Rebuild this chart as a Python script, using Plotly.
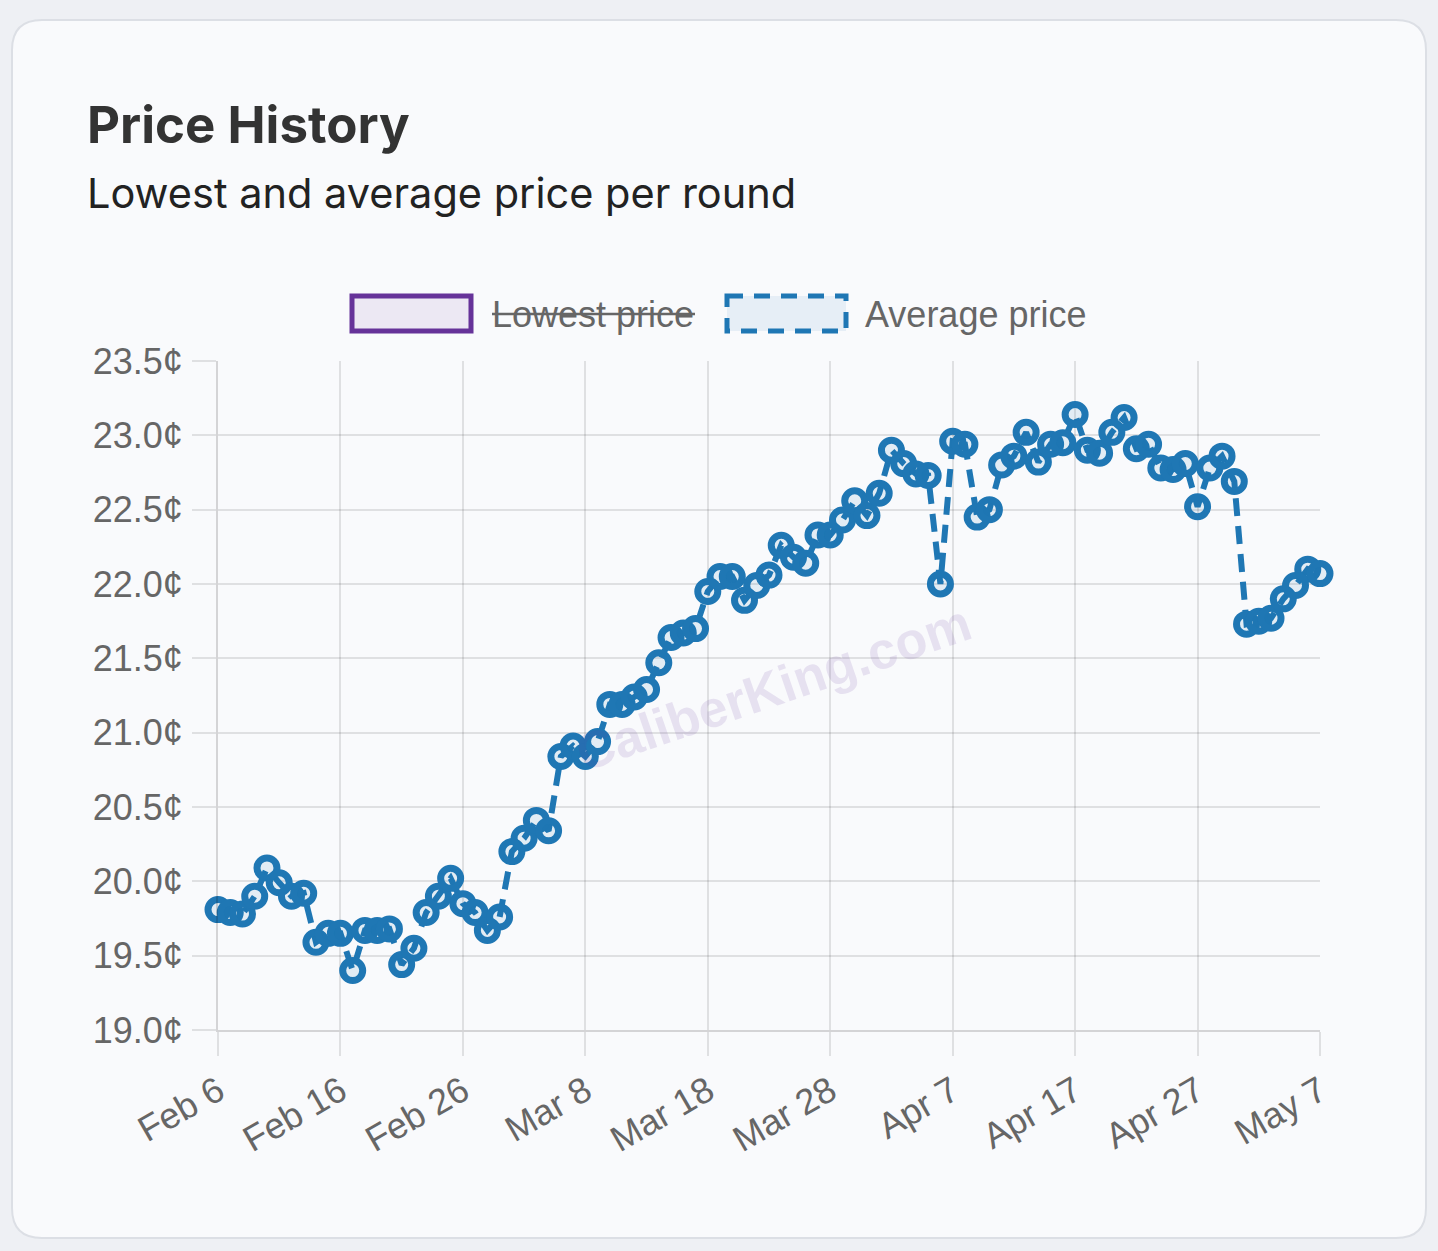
import plotly.graph_objects as go
import pandas as pd

# ---------------- data ----------------
start_date = "2025-02-06"
avg_price = [
    19.81, 19.79, 19.78, 19.90, 20.09, 19.99, 19.90, 19.92, 19.59, 19.65,
    19.65, 19.40, 19.67, 19.67, 19.68, 19.44, 19.55, 19.79, 19.90, 20.02,
    19.85, 19.79, 19.67, 19.76, 20.20, 20.29, 20.41, 20.34, 20.84, 20.91,
    20.84, 20.94, 21.19, 21.19, 21.24, 21.29, 21.47, 21.64, 21.67, 21.70,
    21.95, 22.05, 22.05, 21.89, 21.99, 22.06, 22.26, 22.18, 22.14, 22.33,
    22.33, 22.43, 22.56, 22.46, 22.61, 22.90, 22.81, 22.74, 22.73, 22.00,
    22.96, 22.94, 22.45, 22.50, 22.80, 22.86, 23.02, 22.82, 22.94, 22.95,
    23.14, 22.90, 22.88, 23.02, 23.12, 22.91, 22.94, 22.78, 22.77, 22.81,
    22.52, 22.78, 22.86, 22.69, 21.73, 21.75, 21.77, 21.90, 21.99, 22.10,
    22.07,
]
dates = pd.date_range(start_date, periods=len(avg_price), freq="D")

x_tick_vals = ["2025-02-06", "2025-02-16", "2025-02-26", "2025-03-08", "2025-03-18",
               "2025-03-28", "2025-04-07", "2025-04-17", "2025-04-27", "2025-05-07"]
x_tick_text = ["Feb 6", "Feb 16", "Feb 26", "Mar 8", "Mar 18",
               "Mar 28", "Apr 7", "Apr 17", "Apr 27", "May 7"]
y_tick_vals = [19.0, 19.5, 20.0, 20.5, 21.0, 21.5, 22.0, 22.5, 23.0, 23.5]
y_tick_text = [f"{v:.1f}¢" for v in y_tick_vals]

series_names = ["Lowest price", "Average price"]
title_text = "Price History"
subtitle_text = "Lowest and average price per round"
watermark_text = "CaliberKing.com"

# ---------------- layout geometry ----------------
W, H = 1438, 1251
L, R, T, B = 218, 1320, 361, 1030  # plot area in pixels


def px(xp):
    return (xp - L) / (R - L)


def py(yp):
    return (B - yp) / (B - T)


BLUE = "#1f77b4"
PURPLE = "#663399"
TICK_COLOR = "#666666"
GRID = "rgba(0,0,0,0.1)"

fig = go.Figure()
fig.add_trace(go.Scatter(
    x=dates, y=avg_price, mode="lines+markers", name=series_names[1],
    line=dict(color=BLUE, width=6, dash="18px,10px"),
    marker=dict(size=20, color="rgba(31,119,180,0.1)", line=dict(color=BLUE, width=7)),
    cliponaxis=False, showlegend=False,
))

shapes = []
# card background (rounded rectangle)
cx0, cy0, cx1, cy1, rad = 12, 20, 1426, 1238, 30


def rr_path(x0, y0, x1, y1, r):
    pts = []
    pts.append(f"M {px(x0 + r)} {py(y0)}")
    pts.append(f"L {px(x1 - r)} {py(y0)}")
    pts.append(f"Q {px(x1)} {py(y0)} {px(x1)} {py(y0 + r)}")
    pts.append(f"L {px(x1)} {py(y1 - r)}")
    pts.append(f"Q {px(x1)} {py(y1)} {px(x1 - r)} {py(y1)}")
    pts.append(f"L {px(x0 + r)} {py(y1)}")
    pts.append(f"Q {px(x0)} {py(y1)} {px(x0)} {py(y1 - r)}")
    pts.append(f"L {px(x0)} {py(y0 + r)}")
    pts.append(f"Q {px(x0)} {py(y0)} {px(x0 + r)} {py(y0)}")
    pts.append("Z")
    return " ".join(pts)


shapes.append(dict(type="path", xref="paper", yref="paper", path=rr_path(cx0, cy0, cx1, cy1, rad),
                   fillcolor="#f9fafc", line=dict(color="#dcdfe5", width=2), layer="below"))

# legend boxes
shapes.append(dict(type="rect", xref="paper", yref="paper",
                   x0=px(352), x1=px(471), y0=py(296), y1=py(331),
                   fillcolor="#ece8f3", line=dict(color=PURPLE, width=5)))
shapes.append(dict(type="rect", xref="paper", yref="paper",
                   x0=px(727), x1=px(846), y0=py(296), y1=py(331),
                   fillcolor="#e6eef6", line=dict(color=BLUE, width=5, dash="16px,11px")))
# strike-through for hidden series
shapes.append(dict(type="line", xref="paper", yref="paper",
                   x0=px(492), x1=px(695), y0=py(314), y1=py(314),
                   line=dict(color=TICK_COLOR, width=2.5)))

annotations = [
    dict(text=f"<b>{title_text}</b>", xref="paper", yref="paper", x=px(85), y=py(125),
         xanchor="left", yanchor="middle", showarrow=False,
         font=dict(family="Inter", size=51, color="#333333")),
    dict(text=subtitle_text, xref="paper", yref="paper", x=px(85), y=py(193),
         xanchor="left", yanchor="middle", showarrow=False,
         font=dict(family="Inter", size=41.5, color="#222222")),
    dict(text=series_names[0], xref="paper", yref="paper", x=px(490), y=py(314),
         xanchor="left", yanchor="middle", showarrow=False,
         font=dict(family="Liberation Sans", size=36, color=TICK_COLOR)),
    dict(text=series_names[1], xref="paper", yref="paper", x=px(863), y=py(314),
         xanchor="left", yanchor="middle", showarrow=False,
         font=dict(family="Liberation Sans", size=36, color=TICK_COLOR)),
    dict(text=f"<b>{watermark_text}</b>", xref="paper", yref="paper", x=px(773), y=py(688),
         xanchor="center", yanchor="middle", showarrow=False, textangle=-19,
         font=dict(family="Liberation Sans", size=52, color="rgba(102,51,153,0.12)")),
]

fig.update_layout(
    width=W, height=H,
    margin=dict(l=L, r=W - R, t=T, b=H - B, pad=0),
    paper_bgcolor="#eef0f4", plot_bgcolor="rgba(0,0,0,0)",
    shapes=shapes, annotations=annotations, showlegend=False,
    xaxis=dict(
        type="date", range=["2025-02-06", "2025-05-07"],
        tickvals=x_tick_vals, ticktext=x_tick_text, tickangle=-30,
        showgrid=True, gridcolor=GRID, gridwidth=2,
        ticks="outside", ticklen=24, tickwidth=2, tickcolor=GRID,
        showline=True, linecolor="rgba(0,0,0,0.15)", linewidth=2,
        tickfont=dict(family="Liberation Sans", size=36, color=TICK_COLOR),
        zeroline=False,
    ),
    yaxis=dict(
        range=[19, 23.5], tickvals=y_tick_vals, ticktext=y_tick_text,
        showgrid=True, gridcolor=GRID, gridwidth=2,
        ticks="outside", ticklen=24, tickwidth=2, tickcolor=GRID,
        showline=True, linecolor="rgba(0,0,0,0.15)", linewidth=2,
        tickfont=dict(family="Liberation Sans", size=36, color=TICK_COLOR),
        zeroline=False, ticklabelstandoff=2,
    ),
)

fig.write_html("out.html")
